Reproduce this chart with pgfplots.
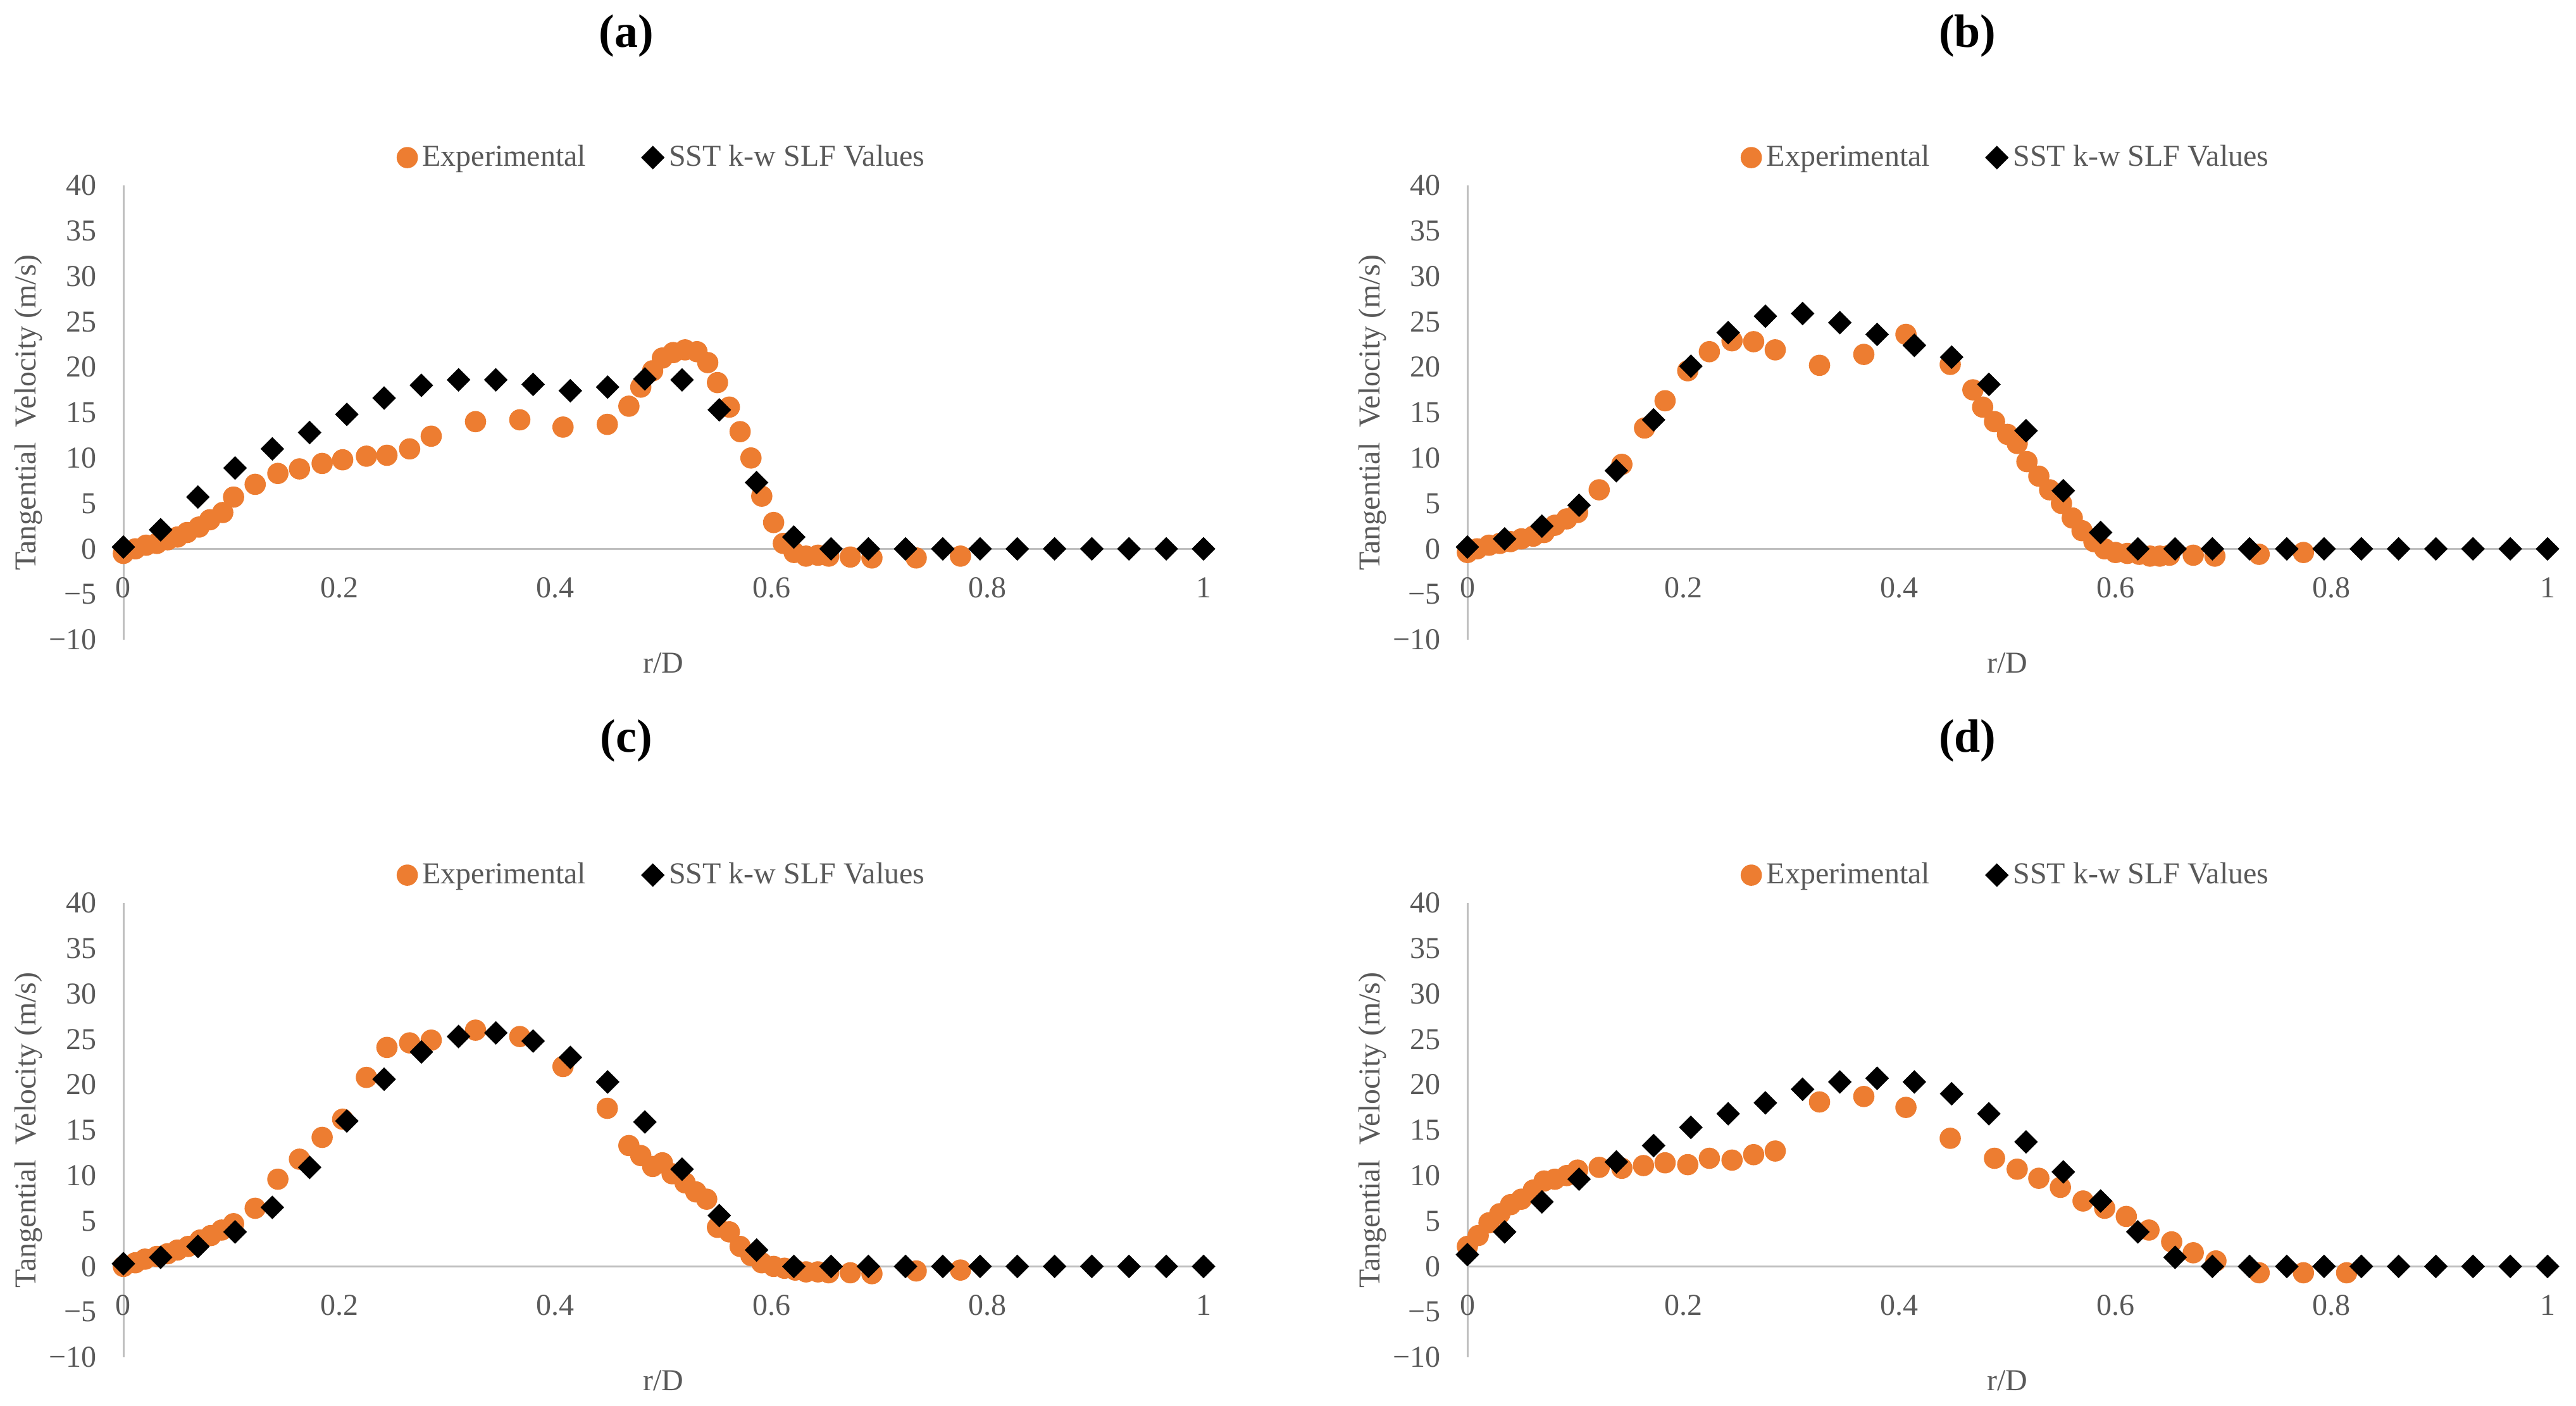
\documentclass[border=0pt]{standalone}
\usepackage{fontspec}
\setmainfont{Liberation Serif}
\usepackage{pgfplots}
\usepackage{pgfplotstable}
\pgfplotsset{compat=1.18}
\definecolor{exporange}{HTML}{ED7D31}
\definecolor{txtgray}{HTML}{595959}
\definecolor{axgray}{HTML}{BFBFBF}

% SST k-w SLF values (x = k/29)
\pgfplotstableread{
x ya yb yc yd
0.0000 0.2 0.2 0.3 1.3
0.0345 2.1 1.1 1.0 3.8
0.0690 5.7 2.5 2.2 7.1
0.1034 8.9 4.8 3.8 9.6
0.1379 11.0 8.6 6.5 11.5
0.1724 12.8 14.2 10.9 13.3
0.2069 14.8 20.1 16.0 15.3
0.2414 16.6 23.8 20.6 16.8
0.2759 18.0 25.6 23.6 18.0
0.3103 18.6 25.9 25.3 19.5
0.3448 18.6 24.9 25.7 20.3
0.3793 18.1 23.6 24.8 20.7
0.4138 17.4 22.4 23.0 20.3
0.4483 17.8 21.1 20.3 19.0
0.4828 18.7 18.1 15.9 16.8
0.5172 18.6 13.0 10.7 13.7
0.5517 15.3 6.4 5.6 10.4
0.5862 7.3 1.8 1.8 7.2
0.6207 1.3 0 0 3.8
0.6552 0 0 0 1.0
0.6897 0 0 0 0
0.7241 0 0 0 0
0.7586 0 0 0 0
0.7931 0 0 0 0
0.8276 0 0 0 0
0.8621 0 0 0 0
0.8966 0 0 0 0
0.9310 0 0 0 0
0.9655 0 0 0 0
1.0000 0 0 0 0
}\sst

\pgfplotstableread{
x y
0 -0.5
0.011 0
0.021 0.4
0.031 0.6
0.041 1.0
0.050 1.3
0.059 1.8
0.070 2.4
0.080 3.2
0.092 4.0
0.102 5.7
0.122 7.1
0.143 8.3
0.163 8.8
0.184 9.4
0.203 9.8
0.225 10.2
0.244 10.3
0.265 11.0
0.285 12.4
0.326 14.0
0.367 14.2
0.407 13.4
0.448 13.7
0.468 15.7
0.479 17.8
0.490 19.6
0.499 21.0
0.509 21.6
0.520 21.9
0.531 21.7
0.541 20.5
0.550 18.3
0.561 15.6
0.571 12.9
0.581 10.0
0.591 5.8
0.602 2.9
0.611 0.6
0.621 -0.4
0.632 -0.8
0.643 -0.7
0.653 -0.8
0.673 -0.9
0.693 -1.0
0.734 -1.0
0.775 -0.8
}\expa

\pgfplotstableread{
x y
0 -0.4
0.009 0
0.020 0.4
0.030 0.6
0.040 0.8
0.050 1.1
0.061 1.4
0.071 1.8
0.081 2.6
0.092 3.3
0.102 4.0
0.122 6.5
0.143 9.3
0.164 13.3
0.183 16.3
0.204 19.6
0.224 21.7
0.245 22.9
0.265 22.8
0.285 21.9
0.326 20.2
0.367 21.4
0.406 23.6
0.447 20.3
0.468 17.5
0.477 15.6
0.488 14.0
0.500 12.6
0.509 11.6
0.518 9.6
0.529 8.0
0.539 6.5
0.550 5.0
0.560 3.4
0.569 2.0
0.580 0.8
0.590 0
0.600 -0.4
0.611 -0.5
0.622 -0.6
0.632 -0.8
0.641 -0.8
0.650 -0.7
0.672 -0.7
0.692 -0.8
0.733 -0.6
0.774 -0.4
}\expb

\pgfplotstableread{
x y
0 0
0.011 0.4
0.020 0.8
0.031 1.1
0.041 1.4
0.050 1.8
0.060 2.2
0.071 2.9
0.081 3.4
0.091 4.0
0.102 4.7
0.122 6.4
0.143 9.6
0.163 11.8
0.184 14.2
0.203 16.2
0.225 20.8
0.244 24.1
0.265 24.6
0.285 24.9
0.326 26.0
0.367 25.3
0.407 22.0
0.448 17.4
0.468 13.3
0.479 12.2
0.490 11.0
0.499 11.4
0.508 10.2
0.520 9.2
0.530 8.2
0.540 7.4
0.550 4.3
0.561 3.8
0.571 2.2
0.581 1.2
0.591 0.4
0.602 0
0.612 -0.2
0.622 -0.4
0.632 -0.6
0.643 -0.6
0.653 -0.7
0.673 -0.7
0.693 -0.8
0.734 -0.5
0.775 -0.4
}\expc

\pgfplotstableread{
x y
0 2.2
0.010 3.4
0.020 4.8
0.030 5.8
0.040 6.8
0.050 7.4
0.061 8.4
0.071 9.4
0.081 9.6
0.092 10.0
0.102 10.6
0.122 10.9
0.143 10.8
0.163 11.1
0.183 11.4
0.204 11.2
0.224 11.9
0.245 11.7
0.265 12.3
0.285 12.7
0.326 18.1
0.367 18.7
0.406 17.5
0.447 14.1
0.488 11.9
0.509 10.7
0.529 9.7
0.549 8.7
0.570 7.2
0.590 6.4
0.610 5.5
0.631 4.0
0.652 2.7
0.672 1.5
0.693 0.6
0.733 -0.7
0.774 -0.7
0.814 -0.7
}\expd

\pgfplotsset{
  panel/.style={
    scale only axis, width=426.75pt, height=179.5pt,
    xmin=0, xmax=1, ymin=-10, ymax=40,
    axis x line=middle, axis y line=left,
    axis line style={draw=axgray, line width=0.75pt, -},
    xtick={0,0.2,0.4,0.6,0.8,1},
    xticklabels={0,0.2,0.4,0.6,0.8,1},
    ytick={-10,-5,0,5,10,15,20,25,30,35,40},
    yticklabels={−10,−5,0,5,10,15,20,25,30,35,40},
    major tick length=0pt,
    hide obscured x ticks=false, hide obscured y ticks=false,
    tick label style={font=\fontsize{12}{14}\selectfont, text=txtgray},
    xticklabel style={anchor=north, yshift=-7.75pt},
    yticklabel style={anchor=east, xshift=-7pt},
    xlabel={r/D}, ylabel={Tangential\ \ Velocity (m/s)},
    every axis x label/.style={at={(axis description cs:0.5,-0.0515)}, anchor=center, font=\fontsize{12}{14}\selectfont, text=txtgray},
    every axis y label/.style={at={(axis description cs:-0.0879,0.5)}, anchor=center, rotate=90, font=\fontsize{12}{14}\selectfont, text=txtgray},
    legend columns=2,
    legend style={at={(axis description cs:0.5,1.0612)}, anchor=center, draw=none, fill=none,
      text=txtgray, font=\fontsize{12}{14}\selectfont,
      /tikz/every even column/.append style={column sep=20pt}},
    legend image code/.code={\draw[#1] plot coordinates {(0pt,0pt)};},
    title style={font=\bfseries\fontsize{18.5}{20}\selectfont, text=black, anchor=center},
    clip=false,
  },
  expstyle/.style={only marks, mark=*, mark size=4pt, color=exporange, mark options={draw=exporange, fill=exporange}},
  sststyle/.style={only marks, mark=square*, mark size=3.1pt, color=black, mark options={rotate=45, draw=black, fill=black}},
}

\begin{document}
\begin{tikzpicture}
\useasboundingbox (0pt,0pt) rectangle (1017.75pt,-555.5pt);

\begin{axis}[panel, at={(48.75pt,-252.75pt)}, anchor=south west,
  title={(a)}, title style={at={(axis description cs:0.4657,1.295)}}]
\addplot[expstyle] table[x=x,y=y] {\expa};
\addlegendentry{Experimental}
\addplot[sststyle] table[x=x,y=ya] {\sst};
\addlegendentry{SST k-w SLF Values}
\end{axis}

\begin{axis}[panel, at={(579.75pt,-252.75pt)}, anchor=south west,
  title={(b)}, title style={at={(axis description cs:0.463,1.295)}}]
\addplot[expstyle] table[x=x,y=y] {\expb};
\addlegendentry{Experimental}
\addplot[sststyle] table[x=x,y=yb] {\sst};
\addlegendentry{SST k-w SLF Values}
\end{axis}

\begin{axis}[panel, at={(48.75pt,-536.25pt)}, anchor=south west,
  title={(c)}, title style={at={(axis description cs:0.4657,1.323)}}]
\addplot[expstyle] table[x=x,y=y] {\expc};
\addlegendentry{Experimental}
\addplot[sststyle] table[x=x,y=yc] {\sst};
\addlegendentry{SST k-w SLF Values}
\end{axis}

\begin{axis}[panel, at={(579.75pt,-536.25pt)}, anchor=south west,
  title={(d)}, title style={at={(axis description cs:0.463,1.323)}}]
\addplot[expstyle] table[x=x,y=y] {\expd};
\addlegendentry{Experimental}
\addplot[sststyle] table[x=x,y=yd] {\sst};
\addlegendentry{SST k-w SLF Values}
\end{axis}
\end{tikzpicture}
\end{document}
